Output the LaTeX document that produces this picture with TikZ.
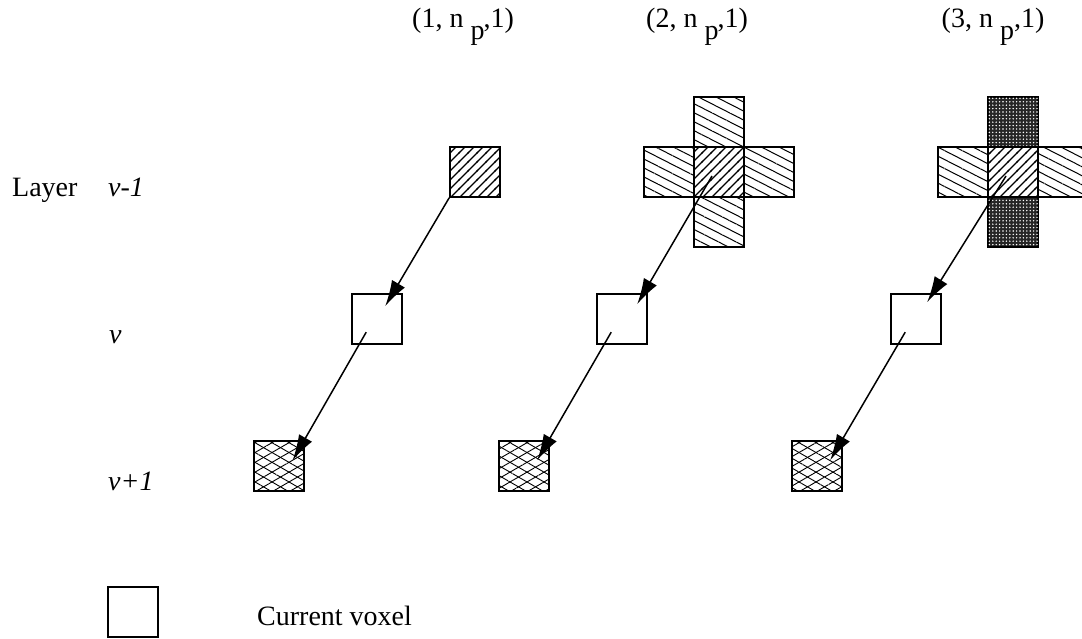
\documentclass[tikz,border=0pt]{standalone}
\usepackage{fontspec}
\setmainfont{Liberation Serif}
\usepackage{tikz}
\usetikzlibrary{
  arrows.meta,
  positioning,
  patterns,
  patterns.meta
}

% diagonal hatch, drawn without rotating the tile
\pgfdeclarepatternformonly{diaghatch}{\pgfqpoint{-1pt}{-1pt}}{\pgfqpoint{10pt}{10pt}}{\pgfqpoint{9pt}{9pt}}{
  \pgfsetlinewidth{1.1pt}
  \pgfpathmoveto{\pgfqpoint{-1pt}{-1pt}}
  \pgfpathlineto{\pgfqpoint{10pt}{10pt}}
  \pgfusepath{stroke}
}

\begin{document}
\begin{tikzpicture}[
        x=1pt, y=1pt,
        every node/.style={font=\fontsize{28}{34}\selectfont, inner sep=0pt},
        voxel/.style={rectangle, draw, line width=1.6pt, minimum size=50pt, inner sep=0pt},
        prevhatch/.style={voxel, pattern=diaghatch},
        sidehatch/.style={voxel, pattern={Lines[angle=-27, distance=8pt, line width=1pt]}},
        nexthatch/.style={voxel, pattern={Lines[angle=30, distance=8.5pt, line width=0.9pt]},
            postaction={pattern={Lines[angle=-30, distance=8.5pt, line width=0.9pt]}}},
        darkvox/.style={voxel, fill=black!85,
            postaction={pattern={Dots[distance=3.4pt, radius=0.8pt]}, pattern color=white}},
        arrow/.style={line width=1.5pt, -{Latex[length=26pt, width=15pt]}}
    ]
    \useasboundingbox (0,0) rectangle (1082,-639);

    % Headings
    \node[anchor=base] (h1) at (463,-28) {(1, n \raisebox{-12pt}{p}\kern-1pt,1)};
    \node[anchor=base] (h2) at (697,-28) {(2, n \raisebox{-12pt}{p}\kern-1pt,1)};
    \node[anchor=base] (h3) at (993,-28) {(3, n \raisebox{-12pt}{p},1)};

    % Layer labels
    \node[anchor=base west] (layer) at (12,-197) {Layer};
    \node[anchor=base west] (lprev) at (108,-197) {\textit{v-1}};
    \node[anchor=base west] (lcur) at (109,-343) {\textit{v}};
    \node[anchor=base west] (lnext) at (108,-490) {\textit{v+1}};

    % Column 1
    \node[prevhatch] (c1top) at (475,-172) {};
    \node[voxel] (c1mid) at (377,-319) {};
    \node[nexthatch] (c1bot) at (279,-466) {};

    % Column 2
    \node[sidehatch] (c2up) at (719,-122) {};
    \node[sidehatch] (c2down) at (719,-222) {};
    \node[sidehatch] (c2left) at (669,-172) {};
    \node[sidehatch] (c2right) at (769,-172) {};
    \node[prevhatch] (c2top) at (719,-172) {};
    \node[voxel] (c2mid) at (622,-319) {};
    \node[nexthatch] (c2bot) at (524,-466) {};

    % Column 3
    \node[darkvox] (c3up) at (1013,-122) {};
    \node[darkvox] (c3down) at (1013,-222) {};
    \node[sidehatch] (c3left) at (963,-172) {};
    \node[sidehatch] (c3right) at (1063,-172) {};
    \node[prevhatch] (c3top) at (1013,-172) {};
    \node[voxel] (c3mid) at (916,-319) {};
    \node[nexthatch] (c3bot) at (817,-466) {};

    % Arrows
    \draw[arrow] (c1top.south west) -- ([shift={(34,-13)}]c1mid.north west);
    \draw[arrow] ([shift={(15,-39)}]c1mid.north west) -- ([shift={(39,-20)}]c1bot.north west);
    \draw[arrow] ([shift={(-7,-4)}]c2top.center) -- ([shift={(41,-11)}]c2mid.north west);
    \draw[arrow] ([shift={(15,-39)}]c2mid.north west) -- ([shift={(39,-20)}]c2bot.north west);
    \draw[arrow] ([shift={(-7,-4)}]c3top.center) -- ([shift={(37,-9)}]c3mid.north west);
    \draw[arrow] ([shift={(15,-39)}]c3mid.north west) -- ([shift={(39,-20)}]c3bot.north west);

    % Legend
    \node[voxel] (key) at (133,-612) {};
    \node[anchor=base west] (keytext) at (257,-625) {Current voxel};
\end{tikzpicture}
\end{document}
